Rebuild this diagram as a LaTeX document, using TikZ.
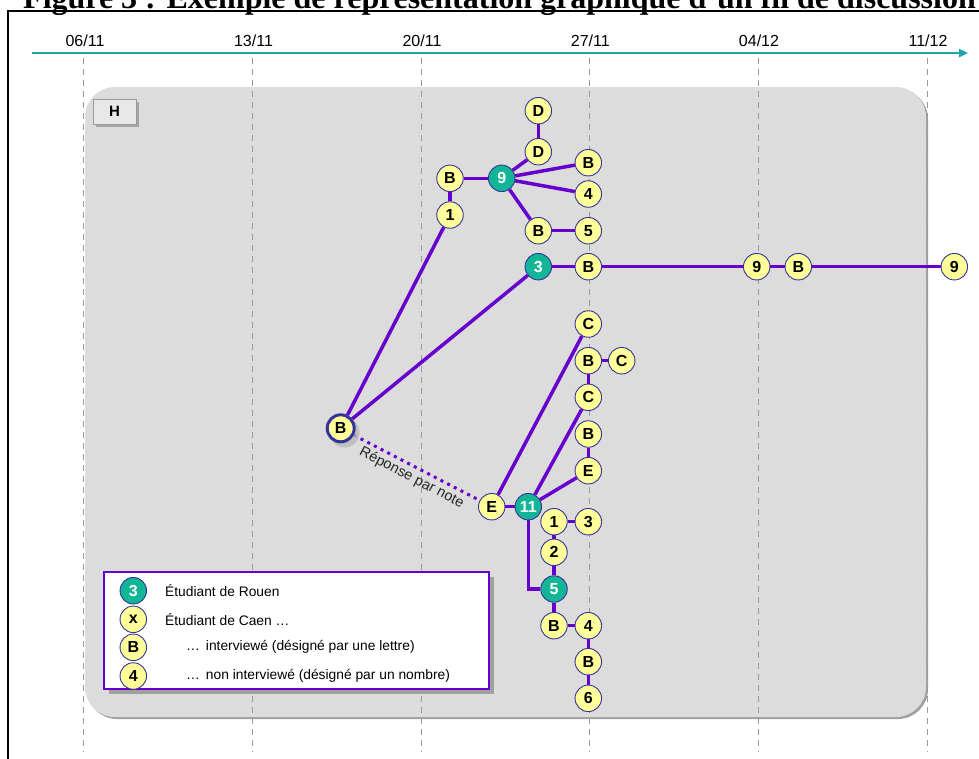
\documentclass[tikz,border=0pt]{standalone}
\usepackage{fontspec}
\setmainfont{Liberation Serif}
\setsansfont{Liberation Sans}
\usetikzlibrary{arrows.meta}
\definecolor{edgec}{HTML}{6600CC}
\definecolor{nodey}{HTML}{FFFF99}
\definecolor{nodeb}{HTML}{333399}
\definecolor{greenc}{HTML}{12B596}
\definecolor{axisc}{HTML}{1FA5A5}
\definecolor{panelc}{HTML}{DCDCDC}
\definecolor{shadowc}{HTML}{A0A0A0}
\pgfdeclarelayer{bg}
\pgfdeclarelayer{mid}
\pgfsetlayers{bg,mid,main}
\tikzset{
  yn/.style={circle, fill=nodey, draw=nodeb, line width=0.9pt, minimum size=26.5pt, inner sep=0pt,
    font=\sffamily\bfseries\fontsize{16}{16}\selectfont},
  gn/.style={yn, fill=greenc, text=white},
  link/.style={draw=edgec, line width=3.5pt},
  datelbl/.style={font=\sffamily\fontsize{16}{16}\selectfont},
  weekline/.style={draw=gray!80, line width=0.8pt, dash pattern=on 6pt off 5pt},
  legtext/.style={anchor=west, font=\sffamily\fontsize{13.8}{14}\selectfont, inner sep=0pt}
}
\begin{document}
\begin{tikzpicture}[x=1pt, y=-1pt]
\useasboundingbox (0,0) rectangle (979,758);
\clip (0,0) rectangle (979,758);
% title and frame
\node[anchor=base west, inner sep=0pt, font=\bfseries\fontsize{32}{32}\selectfont] (title) at (23,8)
  {Figure 3 : Exemple de représentation graphique d’un fil de discussion};
\draw[line width=2pt] (8,770) -- (8,11) -- (990,11);
% time axis
\coordinate (axS) at (32,53);
\coordinate (axE) at (968,53);
\draw[axisc, line width=2.5pt, -{Triangle[length=9pt,width=8pt]}] (axS) -- (axE);
\foreach \x/\d in {84/{06/11}, 252.5/{13/11}, 421/{20/11}, 589.3/{27/11}, 758/{04/12}, 927/{11/12}}{
  \node[datelbl] at (\x+1,41) {\d};
}
\begin{pgfonlayer}{bg}
  \fill[shadowc, rounded corners=30pt] (87,89) rectangle (928,719);
  \fill[panelc, rounded corners=30pt] (85,87) rectangle (926,717);
  \foreach \x in {83.5,252.5,421,589.3,758,927}{
    \draw[weekline] (\x,58) -- (\x,752);
  }
\end{pgfonlayer}
% H box
\fill[gray!70] (96,102) rectangle (139,127);
\node[draw=gray!80, fill=gray!18, line width=0.8pt, minimum width=43pt, minimum height=25pt, inner sep=0pt,
  font=\sffamily\bfseries\fontsize{15}{15}\selectfont] (hbox) at (114.5,111.5) {H};
% nodes
\node[yn] (dTop) at (538.3,110.7) {D};
\node[yn] (dMid) at (538.3,151.7) {D};
\node[yn] (bA) at (450,178.3) {B};
\node[gn] (g9) at (501.7,178.3) {9};
\node[yn] (bR1) at (588.3,162.7) {B};
\node[yn] (n4a) at (588.3,194) {4};
\node[yn] (n1a) at (450,215) {1};
\node[yn] (bL2) at (538.3,230.7) {B};
\node[yn] (n5a) at (588.3,230.7) {5};
\node[gn] (g3) at (538.3,266.7) {3};
\node[yn] (bR2) at (588.3,266.7) {B};
\node[yn] (n9b) at (756.7,266.7) {9};
\node[yn] (bR3) at (798.3,266.7) {B};
\node[yn] (n9c) at (954.3,266.7) {9};
\node[yn] (cA) at (588.3,324) {C};
\node[yn] (bC) at (588.3,360.7) {B};
\node[yn] (cB) at (621.7,360.7) {C};
\node[yn] (cC) at (588.3,397.3) {C};
\node[yn] (bD) at (588.3,434) {B};
\node[yn] (eA) at (588.3,470.7) {E};
\fill[gray!55, opacity=0.8] (344.5,432.5) circle (15pt);
\node[yn, line width=3pt, minimum size=27pt] (bigB) at (340.7,428.3) {B};
\node[yn] (eL) at (491.7,506.7) {E};
\node[gn] (g11) at (528.3,506.7) {11};
\node[yn] (n1b) at (554,521.7) {1};
\node[yn] (n3b) at (588.3,521.7) {3};
\node[yn] (n2) at (554,552.3) {2};
\node[gn] (g5) at (554,589) {5};
\node[yn] (bE) at (554,625.7) {B};
\node[yn] (n4b) at (588.3,625.7) {4};
\node[yn] (bF) at (588.3,661.7) {B};
\node[yn] (n6) at (588.3,698.3) {6};
% connectors
\begin{pgfonlayer}{mid}
  \draw[link] (dTop) -- (dMid);
  \draw[link] (dMid) -- (g9);
  \draw[link] (bA) -- (g9);
  \draw[link] (g9) -- (bR1);
  \draw[link] (g9) -- (n4a);
  \draw[link] (g9) -- (bL2);
  \draw[link] (bL2) -- (n5a);
  \draw[link] (bA) -- (n1a);
  \draw[link] (n1a) -- (bigB);
  \draw[link] (g3) -- (bigB);
  \draw[link] (g3) -- (bR2);
  \draw[link] (bR2) -- (n9b);
  \draw[link] (n9b) -- (bR3);
  \draw[link] (bR3) -- (n9c);
  \draw[link] (eL) -- (cA);
  \draw[link] (eL) -- (g11);
  \draw[link] (g11) -- (cC);
  \draw[link] (g11) -- (eA);
  \draw[link] (bC) -- (cB);
  \draw[link] (bC) -- (cC);
  \draw[link] (bD) -- (eA);
  \draw[link] (g11.center) |- (g5);
  \draw[link] (n1b) -- (n3b);
  \draw[link] (n1b) -- (n2);
  \draw[link] (n2) -- (g5);
  \draw[link] (g5) -- (bE);
  \draw[link] (bE) -- (n4b);
  \draw[link] (n4b) -- (bF);
  \draw[link] (bF) -- (n6);
  \draw[edgec, line width=3pt, dash pattern=on 3pt off 4.5pt] (bigB) -- (eL)
    node[midway, below, sloped, inner sep=3pt, text=black!85, font=\sffamily\fontsize{14.5}{14.5}\selectfont] (rlabel) {Réponse par note};
\end{pgfonlayer}
% legend
\fill[shadowc] (109,577) rectangle (494,694);
\draw[edgec, fill=white, line width=1.5pt] (104,572) rectangle (489,689);
\node[gn] (lg1) at (133.3,590.7) {3};
\node[yn] (lg2) at (133.3,619.3) {x};
\node[yn] (lg3) at (133.3,647.3) {B};
\node[yn] (lg4) at (133.3,676) {4};
\node[legtext] (lt1) at (165,590.7) {Étudiant de Rouen};
\node[legtext] (lt2) at (165,619.3) {Étudiant de Caen …};
\node[legtext] (lt3) at (186,647.3) {…\hspace{6pt}interviewé (désigné par une lettre)};
\node[legtext] (lt4) at (186,676) {…\hspace{6pt}non interviewé (désigné par un nombre)};
\end{tikzpicture}
\end{document}
